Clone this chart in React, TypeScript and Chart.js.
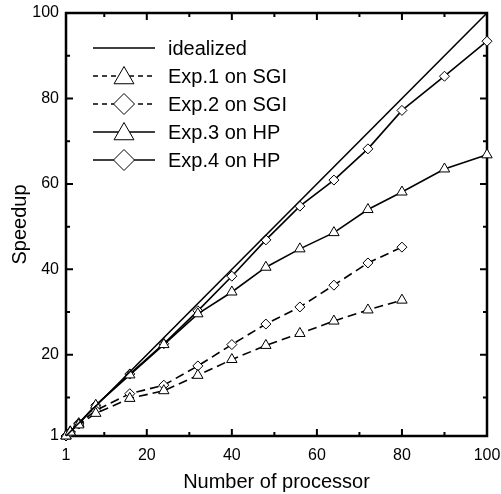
import React, { useEffect, useRef } from "react";
import { Chart, registerables } from "chart.js";

Chart.register(...registerables);

// ---- data ----
const xHP = [1, 2, 4, 8, 16, 24, 32, 40, 48, 56, 64, 72, 80, 90, 100];
const xSGI = [1, 2, 4, 8, 16, 24, 32, 40, 48, 56, 64, 72, 80];
const idealX = [1, 100];
const idealY = [1, 100];
const exp1SGI = [1, 1.9, 3.6, 6.3, 9.8, 11.6, 15.2, 18.9, 22.2, 25.0, 27.9, 30.5, 32.8];
const exp2SGI = [1, 1.9, 3.8, 7.0, 10.9, 12.9, 17.4, 22.4, 27.2, 31.2, 36.3, 41.5, 45.2];
const exp3HP = [1, 2, 3.9, 8.2, 15.3, 22.4, 29.6, 34.7, 40.5, 44.8, 48.6, 54.0, 58.1, 63.5, 66.8];
const exp4HP = [1, 2, 4, 8.2, 15.5, 22.6, 30.3, 38.4, 46.9, 54.8, 60.9, 68.2, 77.2, 85.2, 93.4];
const tickValues = [1, 10, 20, 30, 40, 50, 60, 70, 80, 90, 100];
const labeledTicks = [1, 20, 40, 60, 80, 100];
const seriesNames = ["idealized", "Exp.1 on SGI", "Exp.2 on SGI", "Exp.3 on HP", "Exp.4 on HP"];

const FONT = "'Liberation Sans', Arial, sans-serif";

const toPts = (xs: number[], ys: number[]) => xs.map((x, i) => ({ x, y: ys[i] }));

function drawMarker(ctx: CanvasRenderingContext2D, style: string, x: number, y: number, r: number) {
  ctx.beginPath();
  if (style === "triangle") {
    for (let k = 0; k < 3; k++) {
      const a = (k * 2 * Math.PI) / 3;
      const px = x + Math.sin(a) * r;
      const py = y - Math.cos(a) * r;
      if (k === 0) ctx.moveTo(px, py);
      else ctx.lineTo(px, py);
    }
  } else if (style === "rectRot") {
    ctx.moveTo(x, y - r);
    ctx.lineTo(x + r, y);
    ctx.lineTo(x, y + r);
    ctx.lineTo(x - r, y);
  }
  ctx.closePath();
  ctx.fillStyle = "#fff";
  ctx.fill();
  ctx.strokeStyle = "#000";
  ctx.lineWidth = 1;
  ctx.setLineDash([]);
  ctx.stroke();
}

const framePlugin = {
  id: "frame",
  beforeDatasetsDraw(chart: any) {
    const { ctx, chartArea: a, scales } = chart;
    const xs = scales.x;
    const ys = scales.y;
    ctx.save();
    ctx.strokeStyle = "#000";
    ctx.lineWidth = 2.5;
    ctx.setLineDash([]);
    ctx.strokeRect(a.left, a.top, a.right - a.left, a.bottom - a.top);
    ctx.lineWidth = 2;
    for (const v of tickValues) {
      const len = labeledTicks.includes(v) ? 7 : 4;
      const px = xs.getPixelForValue(v);
      ctx.beginPath();
      ctx.moveTo(px, a.bottom);
      ctx.lineTo(px, a.bottom - len);
      ctx.moveTo(px, a.top);
      ctx.lineTo(px, a.top + len);
      ctx.stroke();
      const py = ys.getPixelForValue(v);
      ctx.beginPath();
      ctx.moveTo(a.left, py);
      ctx.lineTo(a.left + len, py);
      ctx.moveTo(a.right, py);
      ctx.lineTo(a.right - len, py);
      ctx.stroke();
    }
    ctx.restore();
  },
};

const legendPlugin = {
  id: "customLegend",
  afterDraw(chart: any) {
    const { ctx } = chart;
    const x0 = 93;
    const x1 = 155;
    const tx = 168;
    const y0 = 48;
    const dy = 28;
    ctx.save();
    chart.data.datasets.forEach((ds: any, i: number) => {
      const y = y0 + i * dy;
      ctx.strokeStyle = "#000";
      ctx.lineWidth = 1.4;
      ctx.setLineDash(ds.borderDash && ds.borderDash.length ? [5, 4] : []);
      ctx.beginPath();
      ctx.moveTo(x0, y);
      ctx.lineTo(x1, y);
      ctx.stroke();
      ctx.setLineDash([]);
      if (ds.pointRadius > 0) {
        const cx = (x0 + x1) / 2;
        if (ds.pointStyle === "triangle") drawMarker(ctx, "triangle", cx, y + 2, 11.5);
        else drawMarker(ctx, "rectRot", cx, y, 10.5);
      }
      ctx.fillStyle = "#000";
      ctx.font = `20px ${FONT}`;
      ctx.textAlign = "left";
      ctx.textBaseline = "middle";
      ctx.fillText(ds.label, tx, y + 1);
    });
    ctx.restore();
  },
};

export default function App() {
  const ref = useRef<HTMLCanvasElement | null>(null);

  useEffect(() => {
    const canvas = ref.current;
    if (!canvas) return;
    const common = {
      borderColor: "#000",
      pointBackgroundColor: "#fff",
      pointBorderColor: "#000",
      pointBorderWidth: 1,
      fill: false,
      tension: 0,
      clip: false,
    };
    const chart = new Chart(canvas, {
      type: "line",
      data: {
        datasets: [
          { ...common, label: seriesNames[0], data: toPts(idealX, idealY), borderWidth: 1.6, pointRadius: 0, borderDash: [] },
          { ...common, label: seriesNames[1], data: toPts(xSGI, exp1SGI), borderWidth: 1.6, pointStyle: "triangle", pointRadius: 6, borderDash: [9, 5] },
          { ...common, label: seriesNames[2], data: toPts(xSGI, exp2SGI), borderWidth: 1.6, pointStyle: "rectRot", pointRadius: 5, borderDash: [9, 5] },
          { ...common, label: seriesNames[3], data: toPts(xHP, exp3HP), borderWidth: 1.6, pointStyle: "triangle", pointRadius: 6, borderDash: [] },
          { ...common, label: seriesNames[4], data: toPts(xHP, exp4HP), borderWidth: 1.6, pointStyle: "rectRot", pointRadius: 5, borderDash: [] },
        ] as any,
      },
      options: {
        animation: false,
        responsive: false,
        devicePixelRatio: 1,
        layout: { padding: { top: 13, right: 14, left: 0, bottom: 0 } },
        plugins: { legend: { display: false }, tooltip: { enabled: false } },
        scales: {
          x: {
            type: "linear",
            min: 1,
            max: 100,
            grid: { display: false, drawTicks: false },
            border: { display: false },
            afterBuildTicks: (s: any) => {
              s.ticks = tickValues.map((v) => ({ value: v }));
            },
            afterFit: (s: any) => {
              s.height = 58;
              s.paddingLeft = 0;
              s.paddingRight = 0;
            },
            ticks: {
              autoSkip: false,
              maxRotation: 0,
              padding: 10,
              color: "#000",
              font: { family: FONT, size: 16 },
              callback: (v: any) => (labeledTicks.includes(Number(v)) ? String(v) : ""),
            },
            title: {
              display: true,
              text: "Number of processor",
              color: "#000",
              font: { family: FONT, size: 20 },
              padding: { top: 1, bottom: 0 },
            },
          },
          y: {
            type: "linear",
            min: 1,
            max: 100,
            grid: { display: false, drawTicks: false },
            border: { display: false },
            afterBuildTicks: (s: any) => {
              s.ticks = tickValues.map((v) => ({ value: v }));
            },
            afterFit: (s: any) => {
              s.width = 66;
              s.paddingTop = 0;
              s.paddingBottom = 0;
            },
            ticks: {
              autoSkip: false,
              padding: 7,
              color: "#000",
              font: { family: FONT, size: 16 },
              callback: (v: any) => (labeledTicks.includes(Number(v)) ? String(v) : ""),
            },
            title: {
              display: true,
              text: "Speedup",
              color: "#000",
              font: { family: FONT, size: 20 },
              padding: { top: 8, bottom: 0 },
            },
          },
        },
      } as any,
      plugins: [framePlugin, legendPlugin],
    });
    return () => chart.destroy();
  }, []);

  return (
    <div style={{ position: "absolute", left: 0, top: 0, width: 501, height: 494, background: "#fff" }}>
      <canvas ref={ref} width={501} height={494} style={{ display: "block", width: 501, height: 494 }} />
    </div>
  );
}
